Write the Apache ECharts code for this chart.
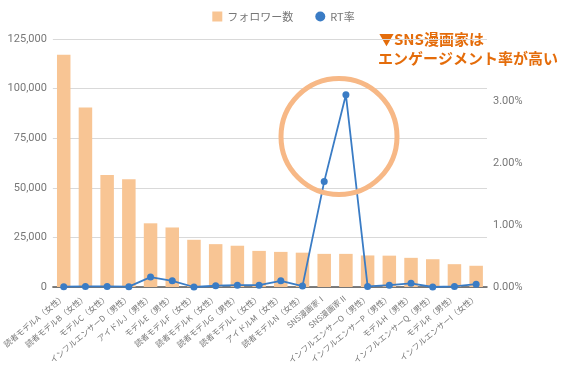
<!DOCTYPE html>
<html><head><meta charset="utf-8">
<script src="https://cdn.jsdelivr.net/npm/echarts@6/dist/echarts.min.js"></script>
<style>html,body{margin:0;padding:0;background:#fff}#c{width:567px;height:378px}</style>
</head><body><div id="c"></div>
<script>
const categories = ['読者モデルA（女性）','読者モデルB（女性）','モデルC（女性）','インフルエンサーD（男性）','アイドルJ（男性）','モデルE（男性）','読者モデルF（女性）','読者モデルK（女性）','読者モデルG（男性）','読者モデルL（女性）','アイドルM（女性）','読者モデルN（女性）','SNS漫画家Ⅰ','SNS漫画家Ⅱ','インフルエンサーO（男性）','インフルエンサーP（男性）','モデルH（男性）','インフルエンサーQ（男性）','モデルR（男性）','インフルエンサーI（女性）'];
const followers = [117000,90500,56500,54300,32100,30000,23800,21600,20800,18200,17700,17300,16700,16700,15900,15800,14700,14000,11500,10700];
const rtRate = [0.005,0.01,0.01,0.005,0.16,0.1,0.0,0.02,0.03,0.03,0.1,0.015,1.7,3.1,0.01,0.03,0.06,0.0,0.01,0.045];
const leftTicks = [0,25000,50000,75000,100000,125000];
const annotation = ['▼SNS漫画家は','エンゲージメント率が高い'];

const chart = echarts.init(document.getElementById('c'));
const font = '"Noto Sans CJK JP","Noto Sans",sans-serif';
const numFont = 'Roboto,"Noto Sans",sans-serif';
chart.setOption({
  animation:false,
  textStyle:{fontFamily:font},
  legend:{top:6,left:'center',itemWidth:10,itemHeight:10,itemGap:22,
    textStyle:{color:'#777',fontSize:11,fontFamily:font},
    data:[{name:'フォロワー数',icon:'rect'},{name:'RT率',icon:'circle'}]},
  grid:{left:52,right:80,top:39,bottom:91},
  xAxis:{type:'category',data:categories,
    axisLine:{lineStyle:{color:'#555',width:1.5}},axisTick:{show:false},
    axisLabel:{rotate:40,interval:0,fontSize:8,color:'#777',margin:9,fontFamily:font}},
  yAxis:[
    {type:'value',min:leftTicks[0],max:leftTicks[leftTicks.length-1],interval:25000,
     axisLabel:{color:'#777',fontSize:11,margin:6,fontFamily:numFont,formatter:v=>v.toLocaleString('en-US')},
     splitLine:{lineStyle:{color:'#d9d9d9'}},axisLine:{show:false},axisTick:{show:false}},
    {type:'value',min:0,max:4,interval:1,position:'right',
     axisLabel:{color:'#777',fontSize:11,margin:6,fontFamily:numFont,showMaxLabel:false,formatter:v=>v.toFixed(2)+'%'},
     splitLine:{show:false},axisLine:{show:false},axisTick:{show:false}}
  ],
  series:[
    {name:'フォロワー数',type:'bar',data:followers,barWidth:13.5,itemStyle:{color:'#f8c594'}},
    {name:'RT率',type:'line',yAxisIndex:1,data:rtRate,symbol:'circle',symbolSize:7,
     lineStyle:{color:'#3a7cc5',width:1.8},itemStyle:{color:'#3a7cc5'}}
  ],
  graphic:[
    {type:'circle',shape:{cx:339,cy:136.5,r:58},style:{fill:'none',stroke:'#f7b886',lineWidth:5},z:10},
    {type:'text',left:379,top:32,style:{text:annotation[0],fill:'#e46c0a',font:'bold 15px '+font}},
    {type:'text',left:378,top:51,style:{text:annotation[1],fill:'#e46c0a',font:'bold 15px '+font}}
  ]
});
</script></body></html>
